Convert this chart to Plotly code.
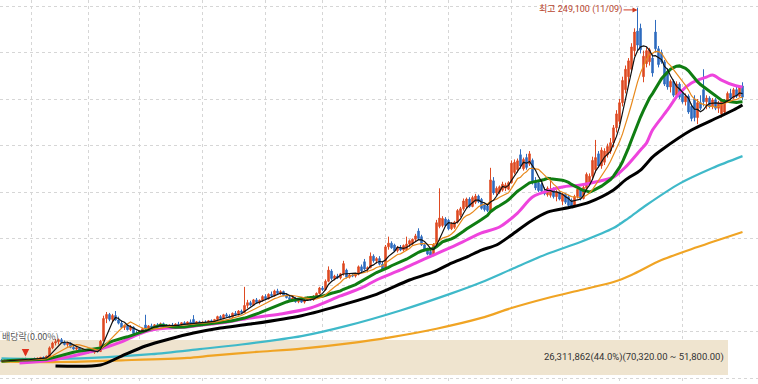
import plotly.graph_objects as go
import pandas as pd

# ---------------- data (prices in thousand won) ----------------
opens = [
59.5, 59.0, 59.6, 59.2, 59.7, 60.1, 59.4, 59.8, 60.4, 59.5,
60.0, 60.5, 60.0, 60.7, 61.0, 60.6, 61.8, 66.2, 68.8, 69.5,
70.6, 69.2, 68.0, 68.8, 66.5, 65.6, 66.2, 64.9, 65.3, 64.0,
64.6, 63.8, 64.5, 64.2, 70.0, 82.0, 84.2, 81.5, 83.6, 81.2,
79.5, 77.2, 78.2, 76.0, 77.4, 74.0, 73.6, 75.2, 78.5, 76.8,
78.0, 77.2, 78.6, 77.8, 79.2, 78.2, 77.3, 78.4, 77.9, 79.0,
78.6, 79.7, 79.0, 80.1, 81.5, 79.4, 80.2, 79.3, 80.0, 79.6,
80.8, 80.3, 81.4, 83.0, 82.0, 84.0, 83.2, 82.6, 84.8, 84.0,
86.0, 85.2, 89.0, 90.5, 89.2, 92.0, 90.6, 91.8, 93.8, 92.6,
95.0, 94.2, 96.8, 95.5, 96.5, 94.4, 93.2, 92.2, 93.0, 91.0,
92.0, 90.8, 91.9, 93.2, 92.0, 94.0, 95.5, 98.4, 97.5, 102.0,
107.5, 103.5, 104.8, 103.8, 106.0, 108.0, 104.2, 105.4, 104.8, 105.8,
109.8, 112.5, 108.6, 109.3, 115.5, 113.0, 114.2, 111.2, 108.5, 120.5,
122.5, 121.5, 118.4, 120.3, 118.8, 119.0, 122.0, 122.2, 124.6, 129.0,
126.0, 121.6, 119.2, 118.0, 116.0, 121.8, 131.5, 132.0, 135.5, 134.8,
130.2, 131.0, 133.8, 137.5, 141.0, 142.0, 146.2, 142.2, 144.5, 147.8,
146.0, 143.0, 142.5, 140.0, 156.0, 149.5, 150.0, 151.0, 152.0, 151.5,
155.0, 160.5, 162.0, 170.0, 162.5, 168.5, 165.0, 167.0, 156.0, 155.0,
154.0, 150.5, 148.5, 148.2, 151.5, 147.5, 150.2, 145.0, 148.8, 147.5,
145.5, 142.5, 147.5, 151.5, 146.5, 152.0, 155.0, 158.5, 162.0, 170.5,
164.0, 166.0, 170.0, 172.0, 176.5, 184.5, 188.0, 198.0, 205.0, 212.0,
216.0, 226.0, 236.5, 238.0, 212.0, 219.0, 220.0, 222.0, 236.0, 227.0,
225.0, 220.0, 215.0, 206.5, 209.5, 202.0, 208.0, 203.0, 198.5, 201.5,
196.0, 200.0, 190.0, 198.0, 205.0, 198.5, 200.5, 196.0, 199.5, 195.0,
192.0, 193.0, 199.0, 203.0, 200.5, 205.0, 201.5, 207.0,
]
highs = [
60.2, 59.8, 60.0, 59.9, 60.5, 60.6, 60.0, 60.8, 60.9, 60.3,
60.7, 61.0, 60.9, 61.4, 61.6, 62.0, 67.0, 69.5, 71.0, 71.2,
71.5, 70.2, 69.5, 69.2, 67.4, 66.8, 66.5, 65.8, 65.6, 65.0,
65.2, 64.9, 65.5, 70.5, 83.5, 85.5, 85.0, 84.5, 86.0, 83.0,
81.0, 78.8, 78.6, 78.5, 77.8, 75.5, 75.8, 77.0, 84.0, 78.5,
79.2, 79.0, 79.5, 79.8, 79.8, 79.0, 78.8, 79.6, 79.4, 80.2,
80.0, 80.5, 80.4, 81.5, 83.8, 80.6, 80.8, 80.5, 81.0, 81.2,
81.5, 81.8, 83.5, 83.8, 84.5, 85.0, 84.2, 85.2, 86.0, 86.5,
86.8, 99.0, 92.0, 91.5, 92.5, 93.0, 92.2, 94.5, 95.0, 95.5,
96.5, 97.5, 98.0, 97.2, 97.0, 95.6, 94.5, 93.6, 93.5, 92.5,
92.8, 92.4, 93.8, 94.0, 94.5, 96.0, 99.0, 99.5, 103.0, 110.0,
108.5, 105.5, 106.0, 106.5, 113.0, 108.8, 106.0, 106.2, 106.5, 110.5,
111.0, 114.0, 110.0, 117.5, 116.5, 115.0, 115.5, 112.5, 121.5, 126.0,
123.5, 122.2, 121.0, 121.5, 121.8, 126.0, 124.5, 125.0, 127.5, 130.5,
127.0, 122.5, 120.0, 119.0, 122.5, 135.0, 152.0, 137.0, 136.5, 135.5,
133.8, 134.5, 140.8, 142.0, 146.5, 147.0, 147.2, 148.0, 149.0, 148.6,
146.8, 144.0, 143.5, 163.0, 158.0, 153.0, 153.5, 155.5, 155.0, 155.8,
167.0, 167.5, 168.0, 173.0, 168.5, 170.5, 172.0, 168.0, 158.0, 156.5,
155.0, 152.5, 153.0, 158.0, 152.5, 151.0, 151.0, 149.5, 149.5, 148.5,
146.5, 148.5, 152.5, 152.0, 153.5, 160.5, 160.0, 169.0, 178.0, 172.0,
174.0, 173.5, 176.0, 179.0, 186.0, 194.0, 200.0, 212.0, 218.0, 222.0,
230.0, 238.0, 249.1, 240.5, 226.0, 228.0, 227.5, 224.0, 242.5, 228.5,
226.5, 221.0, 216.5, 210.5, 210.5, 209.5, 209.0, 204.5, 203.0, 202.5,
197.5, 202.0, 200.0, 202.0, 216.0, 202.0, 201.5, 200.5, 200.5, 199.0,
199.5, 200.0, 204.0, 205.5, 206.0, 206.5, 207.5, 209.0,
]
lows = [
58.8, 58.5, 58.9, 58.6, 59.3, 59.2, 58.8, 59.5, 59.2, 59.0,
59.6, 59.8, 59.6, 60.2, 60.3, 60.4, 61.5, 65.5, 67.5, 68.0,
68.8, 67.5, 66.8, 66.0, 65.2, 64.8, 64.5, 64.0, 63.6, 63.2,
63.4, 63.0, 63.8, 64.0, 69.8, 79.5, 80.5, 79.8, 80.8, 78.8,
76.5, 75.8, 75.5, 75.2, 73.2, 72.8, 73.0, 74.6, 76.0, 76.0,
76.8, 76.5, 77.4, 77.2, 77.8, 76.8, 76.9, 77.6, 77.5, 78.2,
78.0, 78.6, 78.4, 79.2, 79.0, 78.6, 78.9, 78.8, 79.2, 79.0,
79.8, 79.9, 80.8, 81.5, 81.6, 82.6, 82.0, 82.2, 83.5, 83.6,
84.6, 85.0, 87.5, 88.5, 88.8, 90.0, 89.6, 91.0, 92.0, 92.2,
93.5, 93.8, 95.0, 94.6, 94.0, 92.8, 91.8, 91.0, 90.5, 90.2,
90.4, 90.0, 91.4, 91.6, 91.5, 93.2, 95.0, 96.8, 97.0, 101.5,
102.5, 102.5, 103.2, 103.0, 105.0, 103.5, 103.5, 104.2, 104.0, 105.2,
107.0, 108.0, 106.8, 109.0, 112.0, 111.5, 110.5, 107.5, 108.0, 119.0,
119.5, 117.8, 117.5, 118.2, 118.0, 118.5, 120.5, 121.5, 123.5, 124.2,
121.0, 118.5, 116.0, 115.5, 115.5, 121.0, 130.5, 131.0, 131.2, 129.5,
129.5, 130.2, 133.0, 136.5, 140.0, 141.2, 141.5, 141.8, 143.5, 144.0,
140.5, 139.5, 139.2, 139.5, 148.5, 148.0, 149.0, 150.2, 150.5, 151.0,
154.5, 159.5, 160.5, 162.5, 161.5, 162.0, 164.0, 154.0, 151.0, 150.0,
149.5, 148.2, 147.5, 147.0, 146.5, 145.0, 145.5, 143.0, 143.5, 142.0,
141.5, 142.0, 146.5, 145.5, 146.0, 151.0, 154.0, 157.0, 160.5, 163.0,
162.5, 164.5, 168.5, 170.5, 174.0, 182.0, 186.5, 196.0, 203.0, 208.0,
214.0, 223.0, 226.0, 224.5, 209.0, 217.0, 218.0, 212.0, 225.0, 217.0,
219.0, 207.0, 205.0, 203.5, 201.0, 201.0, 200.0, 197.5, 196.5, 192.0,
188.0, 188.0, 186.5, 194.0, 196.0, 194.5, 195.0, 194.5, 194.0, 192.5,
190.0, 191.5, 198.0, 199.5, 200.0, 200.5, 201.0, 199.5,
]
closes = [
59.0, 59.6, 59.2, 59.7, 60.1, 59.4, 59.8, 60.4, 59.5, 60.0,
60.5, 60.0, 60.7, 61.0, 60.6, 61.8, 66.2, 68.8, 69.5, 70.6,
69.2, 68.0, 68.8, 66.5, 65.6, 66.2, 64.9, 65.3, 64.0, 64.6,
63.8, 64.5, 64.2, 69.8, 82.0, 84.2, 81.5, 83.6, 81.2, 79.5,
77.2, 78.2, 76.0, 77.4, 74.0, 73.6, 75.2, 76.5, 76.8, 78.0,
77.2, 78.6, 77.8, 79.2, 78.2, 77.3, 78.4, 77.9, 79.0, 78.6,
79.7, 79.0, 80.1, 79.5, 79.4, 80.2, 79.3, 80.0, 79.6, 80.8,
80.3, 81.4, 83.0, 82.0, 84.0, 83.2, 82.6, 84.8, 84.0, 86.0,
85.2, 89.0, 90.5, 89.2, 92.0, 90.6, 91.8, 93.8, 92.6, 95.0,
94.2, 96.8, 95.5, 96.5, 94.4, 93.2, 92.2, 93.0, 91.0, 92.0,
90.8, 91.9, 93.2, 92.0, 94.0, 95.5, 98.4, 97.5, 102.0, 108.0,
103.5, 104.8, 103.8, 106.0, 111.5, 104.2, 105.4, 104.8, 105.8, 109.8,
107.6, 108.6, 109.3, 115.5, 113.0, 114.2, 111.2, 108.5, 120.5, 122.5,
120.0, 118.4, 120.3, 118.8, 121.2, 122.0, 123.8, 124.6, 126.4, 125.0,
121.6, 119.2, 116.6, 116.0, 121.8, 133.5, 136.0, 135.8, 132.0, 130.2,
133.0, 133.8, 140.0, 141.0, 145.2, 146.2, 142.2, 147.0, 147.8, 144.8,
141.2, 140.5, 140.0, 156.5, 149.5, 152.0, 152.8, 154.2, 153.8, 155.0,
165.5, 166.0, 166.8, 164.0, 167.5, 163.2, 170.5, 155.0, 152.2, 150.8,
150.5, 149.0, 152.0, 151.5, 147.5, 150.2, 146.2, 148.8, 144.5, 142.8,
142.5, 147.5, 151.5, 146.5, 152.5, 159.5, 158.5, 167.0, 168.5, 164.0,
172.5, 172.0, 174.5, 176.5, 184.5, 192.0, 198.0, 210.0, 216.0, 220.5,
228.0, 236.0, 229.0, 226.5, 223.0, 226.0, 226.5, 214.0, 227.0, 218.5,
220.0, 208.0, 206.5, 209.5, 202.0, 208.0, 201.0, 198.5, 201.5, 193.0,
189.5, 190.0, 198.0, 195.0, 198.5, 200.5, 196.0, 199.5, 195.0, 198.0,
198.8, 199.0, 203.0, 200.5, 205.0, 201.5, 206.5, 201.0,
]

# longer moving averages (candle index, value)
ma40_idx = [6, 17, 28, 34, 40, 45, 50, 56, 62, 67, 73, 83, 93, 103, 113, 120, 125, 133, 138, 144,
            150, 155, 160, 166, 172, 177, 183, 187, 193, 198, 204, 208, 213, 215, 217, 222, 226, 230,
            235, 237, 240, 244, 247]
ma40_val = [58.1, 59.7, 63.4, 66.1, 69.4, 73.1, 75.8, 76.9, 77.4, 78.5, 79.6, 82.3, 84.4, 87.6, 94.1,
            98.4, 102.7, 108.1, 111.8, 116.1, 120.4, 124.2, 128.0, 131.2, 138.7, 147.3, 151.1, 152.7,
            153.8, 155.4, 158.0, 163.4, 172.6, 176.3, 183.3, 194.1, 203.2, 208.6, 211.8, 212.9, 210.2,
            207.5, 206.4]
ma60_idx = [18, 33, 40, 48, 56, 64, 73, 83, 100, 115, 125, 136, 144, 150, 155, 160, 165, 170, 176,
            182, 190, 196, 204, 208, 213, 217, 220, 230, 237, 244, 247]
ma60_val = [56.5, 57.0, 61.8, 67.2, 71.0, 74.2, 76.9, 79.0, 83.5, 90.0, 95.0, 102.7, 107.0, 111.8,
            115.0, 118.8, 121.5, 126.9, 133.9, 139.2, 141.9, 144.6, 151.1, 156.5, 161.8, 168.8, 172.6,
            183.3, 188.7, 194.1, 196.8]
ma120_idx = [0, 16, 30, 50, 66, 80, 100, 115, 133, 150, 160, 170, 182, 193, 204, 209, 215, 226, 237, 247]
ma120_val = [60.6, 60.2, 60.8, 62.8, 65.5, 68.0, 72.5, 78.0, 86.3, 95.5, 101.5, 108.5, 116.8, 123.1,
             130.6, 136.0, 143.0, 154.5, 162.9, 169.3]
ma240_idx = [0, 20, 40, 62, 70, 85, 100, 115, 130, 145, 160, 170, 182, 193, 204, 210, 220, 232, 247]
ma240_val = [58.8, 58.6, 59.5, 60.8, 62.0, 64.0, 65.8, 68.5, 72.0, 76.5, 82.3, 87.6, 93.0, 97.3,
             101.6, 105.4, 113.4, 120.4, 128.5]

month_start_idx = [10, 29, 46, 67, 88, 107, 128, 149, 170, 187, 206, 227]
price_grid = [50, 75, 100, 125, 150, 175, 200, 225, 250]

vp_low, vp_high = 51.8, 70.32
vp_label = "26,311,862(44.0%)(70,320.00 ~ 51,800.00)"
peak_idx, peak_price = 212, 249.1
peak_label = "최고 249,100 (11/09)"
exdiv_idx = 8
exdiv_label = "배당락(0.00%)"

# ---------------- figure ----------------
n = min(len(opens), len(highs), len(lows), len(closes))
idx = list(range(n))
cl = pd.Series(closes[:n])
ma5 = cl.rolling(5, min_periods=1).mean()
ma10 = cl.rolling(10, min_periods=1).mean()
ma20 = cl.rolling(20, min_periods=1).mean()

X0, X1 = -0.5, -0.5 + 758 / 3.0
Y0, Y1 = 50 - 6 * 200 / 372.0, 250 + 6 * 200 / 372.0
VP_RIGHT = 242.2

fig = go.Figure()

fig.add_trace(go.Bar(
    x=[VP_RIGHT - X0], base=[X0], y=[(vp_low + vp_high) / 2], width=[vp_high - vp_low],
    orientation="h", marker=dict(color="#efe4cf", line=dict(width=0)), hoverinfo="skip"))

fig.add_trace(go.Candlestick(
    x=idx, open=opens[:n], high=highs[:n], low=lows[:n], close=closes[:n],
    increasing=dict(line=dict(color="#de4a22", width=1), fillcolor="#de4a22"),
    decreasing=dict(line=dict(color="#2f6cbf", width=1), fillcolor="#2f6cbf"),
    whiskerwidth=0))

fig.add_trace(go.Scatter(x=ma240_idx, y=ma240_val, mode="lines",
                         line=dict(color="#f0a424", width=2.2, shape="spline", smoothing=0.8)))
fig.add_trace(go.Scatter(x=ma120_idx, y=ma120_val, mode="lines",
                         line=dict(color="#3fb9c9", width=2.2, shape="spline", smoothing=0.8)))
fig.add_trace(go.Scatter(x=ma60_idx, y=ma60_val, mode="lines",
                         line=dict(color="#000000", width=3, shape="spline", smoothing=0.8)))
fig.add_trace(go.Scatter(x=ma40_idx, y=ma40_val, mode="lines",
                         line=dict(color="#ee44dd", width=3, shape="spline", smoothing=0.8)))
fig.add_trace(go.Scatter(x=idx, y=ma20, mode="lines", line=dict(color="#0f7d12", width=3)))
fig.add_trace(go.Scatter(x=idx, y=ma10, mode="lines", line=dict(color="#e8891c", width=1.2)))
fig.add_trace(go.Scatter(x=idx, y=ma5, mode="lines", line=dict(color="#111111", width=1.2)))

annos = [
    dict(x=peak_idx, y=peak_price - 1.2, text=peak_label, showarrow=True, ax=-14, ay=0,
         xanchor="right", arrowhead=2, arrowsize=1, arrowwidth=1, arrowcolor="#d03a20",
         font=dict(family="Roboto, Noto Sans CJK KR", size=9, color="#b8452e")),
    dict(x=0, xref="paper", y=72.2, text=exdiv_label, showarrow=False, xanchor="left",
         xshift=0, font=dict(family="Noto Sans CJK KR", size=9, color="#555555")),
    dict(x=exdiv_idx, y=61.5, text="", showarrow=True, ax=0, ay=-8, arrowhead=2,
         arrowsize=1, arrowwidth=1.5, arrowcolor="#e0301c"),
    dict(x=VP_RIGHT - 0.7, y=(vp_low + vp_high) / 2, text=vp_label, showarrow=False,
         xanchor="right", font=dict(family="Roboto", size=9.5, color="#333333")),
]

fig.update_layout(
    width=758, height=384, margin=dict(l=0, r=0, t=0, b=0),
    paper_bgcolor="white", plot_bgcolor="white", showlegend=False,
    annotations=annos, bargap=0, hovermode=False,
    xaxis=dict(range=[X0, X1], tickvals=month_start_idx, showticklabels=False, ticks="",
               showgrid=True, gridcolor="#d6d6d6", griddash="dot", gridwidth=1,
               zeroline=False, showline=False, rangeslider=dict(visible=False), fixedrange=True),
    yaxis=dict(range=[Y0, Y1], tickvals=price_grid, showticklabels=False, ticks="",
               showgrid=True, gridcolor="#d6d6d6", griddash="dot", gridwidth=1,
               zeroline=False, showline=False, fixedrange=True),
)

fig.write_html("out.html", config={"displayModeBar": False, "staticPlot": True},
               post_script="document.body.style.margin='0px';")
